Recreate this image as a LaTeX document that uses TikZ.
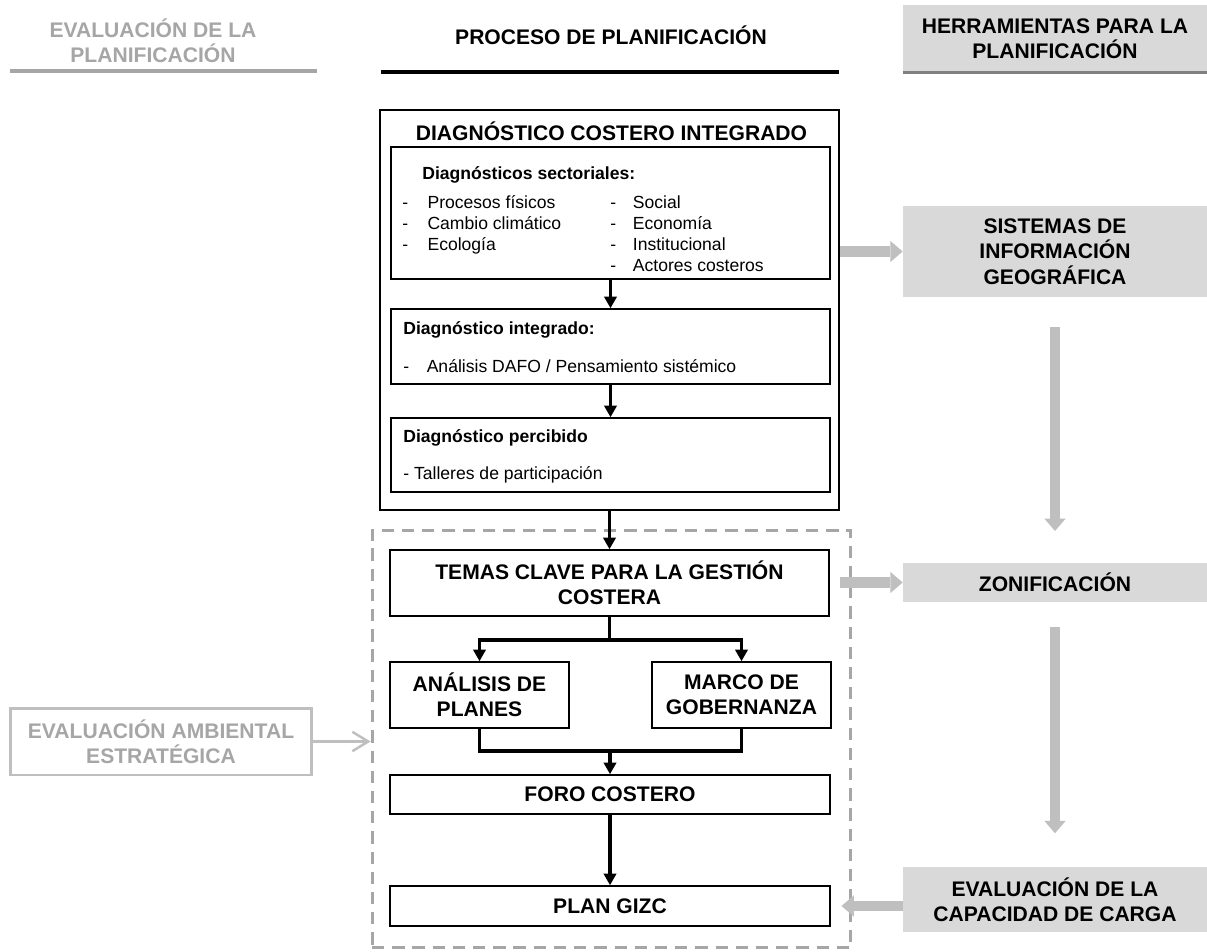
\documentclass[tikz,border=0pt]{standalone}
\usepackage{fontspec}
\setmainfont{Liberation Sans}
\usetikzlibrary{arrows.meta,positioning}
\definecolor{boxgray}{HTML}{D9D9D9}
\definecolor{arrowgray}{HTML}{BFBFBF}
\definecolor{textgray}{HTML}{A6A6A6}
\definecolor{rulegray}{HTML}{7F7F7F}
\tikzset{
    big/.style={font=\fontsize{12}{14.4}\selectfont\bfseries,inner sep=0pt},
    sub/.style={font=\fontsize{10}{12}\selectfont\bfseries,inner sep=0pt,anchor=base west},
    entry/.style={font=\fontsize{10}{12}\selectfont,inner sep=0pt,anchor=base west},
    pbox/.style={draw=black,line width=1.1pt,align=center,big},
    tool/.style={fill=boxgray,align=center,big,minimum width=6.08cm},
    flow/.style={line width=1.9pt,-{Triangle[length=6.5pt,width=7.5pt,line width=0pt]}},
    fat/.style={arrowgray,line width=6pt,-{Triangle[length=7pt,width=12pt,line width=0pt]}}
}

\begin{document}
\begin{tikzpicture}[x=0.02cm,y=-0.02cm]
                \useasboundingbox (0,0) rectangle (1207,952);
                \fill[white] (0,0) rectangle (1207,952);

                % cabeceras
                \node[big,text=textgray,align=center] (hEval) at (153,41) {EVALUACIÓN DE LA\\PLANIFICACIÓN};
                \draw[textgray,line width=2pt] (10,71) -- (317,71);
                \node[big,anchor=base] (hProc) at (611,45) {PROCESO DE PLANIFICACIÓN};
                \draw[line width=1.8pt] (381,72) -- (839,72);
                \node[tool,minimum height=1.34cm] (hTools) at (1055,38.5) {HERRAMIENTAS PARA LA\\PLANIFICACIÓN};
                \draw[rulegray,line width=1.7pt] (hTools.south west) -- (hTools.south east);

                % grupo discontinuo
                \node[draw=textgray,line width=1.7pt,dash pattern=on 7pt off 4.5pt,
                    minimum width=9.58cm,minimum height=8.36cm,inner sep=0pt] (group) at (611.5,739) {};

                % diagnostico
                \node[pbox,minimum width=9.18cm,minimum height=8cm] (dci) at (609.5,310) {};
                \node[big,anchor=base] (dciTitle) at (611.5,141) {DIAGNÓSTICO COSTERO INTEGRADO};

                \node[pbox,minimum width=8.78cm,minimum height=2.64cm] (sect) at (610.5,213) {};
                \node[sub] (sectHead) at (422,180) {Diagnósticos sectoriales:};
                \node[entry] (s1) at (402,209) {-\hspace{11pt}Procesos físicos};
                \node[entry] (s2) at (402,230) {-\hspace{11pt}Cambio climático};
                \node[entry] (s3) at (402,251) {-\hspace{11pt}Ecología};
                \node[entry] (s4) at (610,209) {-\hspace{9.5pt}Social};
                \node[entry] (s5) at (610,230) {-\hspace{9.5pt}Economía};
                \node[entry] (s6) at (610,251) {-\hspace{9.5pt}Institucional};
                \node[entry] (s7) at (610,272) {-\hspace{9.5pt}Actores costeros};

                \node[pbox,minimum width=8.78cm,minimum height=1.5cm] (integ) at (610.5,346.5) {};
                \node[sub] (integHead) at (403,335) {Diagnóstico integrado:};
                \node[entry] (i1) at (403,373) {-\hspace{10pt}Análisis DAFO / Pensamiento sistémico};

                \node[pbox,minimum width=8.78cm,minimum height=1.48cm] (perc) at (610.5,455) {};
                \node[sub] (percHead) at (403,443) {Diagnóstico percibido};
                \node[entry] (p1) at (403,480) {- Talleres de participación};

                % proceso
                \node[pbox,minimum width=8.78cm,minimum height=1.32cm] (temas) at (609.5,583) {TEMAS CLAVE PARA LA GESTIÓN\\COSTERA};
                \node[pbox,minimum width=3.58cm,minimum height=1.32cm] (analisis) at (479.5,695) {ANÁLISIS DE\\PLANES};
                \node[pbox,minimum width=3.58cm,minimum height=1.32cm] (marco) at (741.5,695) {MARCO DE\\GOBERNANZA};
                \node[pbox,minimum width=8.8cm,minimum height=0.78cm] (foro) at (610,794.5) {FORO COSTERO};
                \node[pbox,minimum width=8.8cm,minimum height=0.8cm] (plan) at (610,906) {PLAN GIZC};
                \coordinate (join) at (610,751);

                \draw[flow] (sect.south) -- (integ.north);
                \draw[flow] (integ.south) -- (perc.north);
                \draw[flow] (dci.south) -- (temas.north);
                \draw[flow] (temas.south) -- ++(0,23) -| (analisis.north);
                \draw[flow] (temas.south) -- ++(0,23) -| (marco.north);
                \draw[line width=1.9pt] (analisis.south) |- (join) -| (marco.south);
                \draw[flow] (join) -- (foro.north);
                \draw[flow] (foro.south) -- (plan.north);

                % herramientas
                \node[tool,minimum height=1.82cm] (sig) at (1055,251.5) {SISTEMAS DE\\INFORMACIÓN\\GEOGRÁFICA};
                \node[tool,minimum height=0.78cm] (zon) at (1055,582.5) {ZONIFICACIÓN};
                \node[tool,minimum height=1.3cm] (cap) at (1055,899.5) {EVALUACIÓN DE LA\\CAPACIDAD DE CARGA};

                \draw[fat] (dci.east |- sig.west) -- (sig.west);
                \draw[fat,shorten <=17pt,shorten >=18pt] (sig.south) -- (zon.north);
                \draw[fat,shorten <=6pt] (temas.east |- zon.west) -- (zon.west);
                \draw[fat,shorten <=14pt,shorten >=19pt] (zon.south) -- (cap.north);
                \draw[fat,shorten >=6pt] (cap.west |- plan.east) -- (plan.east);

                % evaluacion ambiental
                \node[draw=arrowgray,line width=1.7pt,text=textgray,align=center,big,
                    minimum width=6.04cm,minimum height=1.34cm] (eae) at (161,741.5) {EVALUACIÓN AMBIENTAL\\ESTRATÉGICA};
                \draw[arrowgray,line width=1.4pt,-{Straight Barb[length=9pt,width=11pt]}] (eae.east) -- (eae.east -| group.west);
\end{tikzpicture}
\end{document}
